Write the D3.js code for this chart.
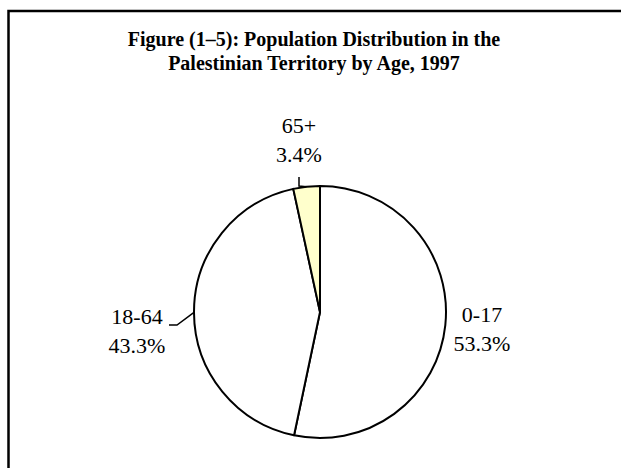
<!DOCTYPE html>
<html>
<head>
<meta charset="utf-8">
<script src="https://cdn.jsdelivr.net/npm/d3@7"></script>
<style>
  body { margin: 0; background: #fff; }
  svg text { font-family: "Liberation Serif", "Times New Roman", serif; fill: #000; }
</style>
</head>
<body>
<div id="chart"></div>
<script>
// data
var ageGroups = ["0-17", "18-64", "65+"];
var shares = [53.3, 43.3, 3.4];
var sliceColors = ["#ffffff", "#ffffff", "#ffffcc"];
var titleLines = ["Figure (1\u20135): Population Distribution in the", "Palestinian Territory by Age, 1997"];

var width = 621, height = 468;
var cx = 320, cy = 312, radius = 126;

var svg = d3.select("#chart").append("svg")
	.attr("width", width)
	.attr("height", height);

// outer frame (only top and left show in the crop)
svg.append("rect")
	.attr("x", 8.5).attr("y", 11)
	.attr("width", 700).attr("height", 600)
	.attr("fill", "none")
	.attr("stroke", "#000")
	.attr("stroke-width", 2.5);

svg.selectAll("text.title")
	.data(titleLines)
	.enter().append("text")
		.attr("class", "title")
		.attr("x", 314)
		.attr("y", function(d, i) { return 46 + i * 24; })
		.attr("text-anchor", "middle")
		.style("font-weight", "bold")
		.style("font-size", "20px")
		.text(function(d) { return d; });

var rows = ageGroups.map(function(g, i) { return {group: g, value: shares[i], color: sliceColors[i]}; });

var pie = d3.pie().sort(null).value(function(d) { return d.value; });
var arc = d3.arc().innerRadius(0).outerRadius(radius);
var arcs = pie(rows);

var g = svg.append("g").attr("transform", "translate(" + cx + "," + cy + ")");

g.selectAll("path")
	.data(arcs)
	.enter().append("path")
		.attr("d", arc)
		.attr("fill", function(d) { return d.data.color; })
		.attr("stroke", "#000")
		.attr("stroke-width", 2)
		.attr("stroke-linejoin", "round");

// label placement, relative to pie centre
var labelPos = {
	"0-17":  {x: 162, y: 10},
	"18-64": {x: -183, y: 12},
	"65+":   {x: -21, y: -179}
};

var labels = g.selectAll("g.label")
	.data(arcs)
	.enter().append("g")
		.attr("class", "label")
		.attr("transform", function(d) {
			var p = labelPos[d.data.group];
			return "translate(" + p.x + "," + p.y + ")";
		});

labels.append("text")
	.attr("text-anchor", "middle")
	.style("font-size", "22px")
	.text(function(d) { return d.data.group; });

labels.append("text")
	.attr("y", 29)
	.attr("text-anchor", "middle")
	.style("font-size", "22px")
	.text(function(d) { return d3.format(".1f")(d.data.value) + "%"; });

// leader lines for the small and the left slice
function edgePoint(d) {
	var a = (d.startAngle + d.endAngle) / 2;
	return [radius * Math.sin(a), -radius * Math.cos(a)];
}

var leaderLine = d3.line();
var leaders = {
	"65+": function(d) { var e = edgePoint(d); return [[-21, -135], [-21, -126], e]; },
	"18-64": function(d) { var e = edgePoint(d); return [[-151, 13], [-143, 13], e]; }
};

g.selectAll("path.leader")
	.data(arcs.filter(function(d) { return leaders[d.data.group]; }))
	.enter().append("path")
		.attr("class", "leader")
		.attr("d", function(d) { return leaderLine(leaders[d.data.group](d)); })
		.attr("fill", "none")
		.attr("stroke", "#000")
		.attr("stroke-width", 1.5);
</script>
</body>
</html>
